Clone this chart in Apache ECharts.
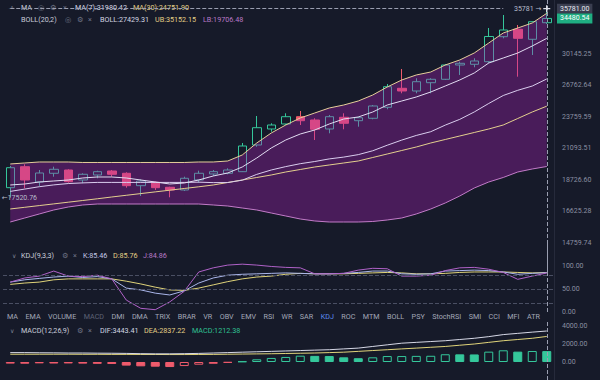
<!DOCTYPE html>
<html><head><meta charset="utf-8">
<script src="https://cdn.jsdelivr.net/npm/echarts@6/dist/echarts.min.js"></script>
<style>html,body{margin:0;padding:0;background:#161a29;}#c{width:600px;height:380px;}</style>
</head><body><div id="c"></div>
<script>
// ---------------- data ----------------
const categories = ['1','2','3','4','5','6','7','8','9','10','11','12','13','14','15','16','17','18','19','20',
  '21','22','23','24','25','26','27','28','29','30','31','32','33','34','35','36','37','38'];
// [open, close, low, high]
const ohlc = [
  [18191,19618,17520.76,19744],[19692,18727,18149,19872],[18586,19229,18308,19447],[19207,19500,18962,19692],
  [19447,18607,18537,19500],[18727,19135,18495,19207],[19084,19324,18848,19397],[19375,19135,18962,19447],
  [19207,18329,18191,19280],[18329,18656,17629,18777],[18565,18191,18033,18621],[18218,18033,17542,18259],
  [18033,18848,17965,18962],[18727,19207,18537,19397],[19157,19324,19013,19447],[19207,19447,19135,19573],
  [19324,21294,19302,21537],[21375,22818,21238,23850],[22707,23052,22476,23201],[23140,23787,23052,24094],
  [23787,23430,23052,24305],[23492,22681,21782,23644],[22707,23787,22341,23940],[23733,23201,22681,24094],
  [23430,23697,22905,23787],[23644,24768,23554,24862],[24647,26642,24461,26915],[26481,26212,25986,28485],
  [26212,27150,25986,27501],[27047,27397,25986,27501],[27397,28918,27325,29027],[28918,29104,27846,29281],
  [28995,29358,28668,29659],[29281,32206,29104,33257],[32181,33006,31987,34931],[33094,31987,27668,33636],
  [31867,34058,30032,34100],[33929,34480.54,33763,35781]
];
const ma7 = [18377,18446,18586,18656,18727,18869,18940,18940,18869,18727,18586,18446,18516,18727,19012,19229,
  19670,20350,21134,21782,22281,22621,23140,23581,23760,24213,24862,25241,25625,26114,26712,27325,28057,29137,
  29693,30259,31071,31980.42];
const ma30 = [16784,16892,17001,17110,17220,17331,17443,17562,17675,17789,17904,18019,18135,18252,18377,18551,
  18727,18905,19084,19302,19485,19670,19820,19969,20121,20389,20660,20935,21214,21537,21824,22114,22408,22707,
  23053,23626,24213,24751.90];
const boll = [17937,18096,18257,18383,18478,18524,18556,18556,18556,18556,18556,18556,18556,18574,18542,18548,
  18714,19129,19448,19699,19916,20081,20280,20420,20610,20914,21356,21774,22158,22474,23043,23549,24214,25006,
  25770,26280,26707,27429.31];
const ub = [19895,19970,20045,20045,20045,20008,20008,20008,20008,20008,20008,20008,20008,20045,20045,20121,
  20582,21537,22365,23052,23670,24122,24582,24862,25241,25819,26612,27325,27846,28164,28918,29469,30259,31425,
  32634,33257,33891,35152.15];
const lb = [15978,16222,16469,16720,16910,17039,17103,17103,17103,17103,17103,17103,17103,17103,17039,16974,
  16846,16720,16531,16345,16161,16039,15978,15978,15978,16009,16100,16222,16469,16783,17168,17628,18169,18586,
  18906,19302,19522,19706.48];
const kLine = [65,70,73,76,78,75,77,72,52,48,41,37,46,63,74,80,82,83,84,85,84,83,83,84,86,89,89,83,82,83,89,90,91,90,87,82,84,85.46];
const dLine = [60,63,65,70,72,72,72,72,67,61,54,48,47,52,59,66,72,76,78,82,84,83,83,83,84,85,86,85,83,83,84,86,87,87,87,86,85,85.76];
const jLine = [65,74,78,89,78,77,80,72,26,8,5,22,45,87,96,102,104,102,99,97,96,83,83,84,91,95,94,78,78,80,90,96,97,93,86,71,78,84.86];
const dif = [1045,1045,1027,1018,1000,1000,982,973,955,927,909,909,927,955,1000,1045,1091,1136,1182,1227,1273,1318,
  1364,1455,1545,1727,1909,2091,2182,2273,2364,2500,2636,2818,3045,3182,3318,3443.41];
const dea = [864,864,864,864,864,855,855,845,845,836,836,827,827,836,845,864,882,900,918,945,973,1000,1045,1091,
  1182,1273,1364,1455,1545,1636,1727,1864,2000,2182,2364,2500,2636,2837.22];
const hist = [-180,-190,-150,-170,-160,-180,-200,-220,-400,-480,-520,-560,-450,-300,-200,-80,60,300,450,560,700,
  680,660,520,420,520,660,660,680,690,860,850,840,1150,1300,1150,1220,1212.38];
const priceTicks = [14759.74,16625.28,18726.60,21093.51,23759.59,26762.64,30145.25];
const kdjTicks = [0,50,100];
const macdTicks = [0,2000,4000];
const lastPrice = 34480.54, maxHigh = 35781, minLow = 17520.76;
const tabs = ['MA','EMA','VOLUME','MACD','DMI','DMA','TRIX','BRAR','VR','OBV','EMV','RSI','WR','SAR','KDJ','ROC',
  'MTM','BOLL','PSY','StochRSI','SMI','CCI','MFI','ATR'];

// ---------------- chart ----------------
const FONT = 'Roboto, "Noto Sans", "DejaVu Sans", sans-serif';
const AX = '#8a8fa1', UP = '#35c79b', DOWN = '#ef5b6c';
const C_W = '#d3d6e2', C_Y = '#e3cf86', C_P = '#b879c6', C_G = '#6f7486';
const CLEAR = 'rgba(0,0,0,0)';
const STEP = Math.log(priceTicks[1] / priceTicks[0]);
const tr = v => Math.log(v / priceTicks[0]) / STEP;
const last = categories[categories.length - 1];
const MAIN_MAX = 7.714, MAIN_MIN = -1;

const chart = echarts.init(document.getElementById('c'), null, {renderer: 'svg', width: 600, height: 380});

const histData = hist.map((v, i) => {
  const prev = i > 0 ? hist[i - 1] : v;
  const c = v >= 0 ? UP : DOWN;
  return {value: v, itemStyle: {color: v < prev ? c : CLEAR, borderColor: c, borderWidth: 1}};
});

const dash = {type: 'dashed', color: '#9a9eb0', width: 1};
const cross = (y0, y1) => [{coord: [last, y0]}, {coord: [last, y1]}];

const gridBase = {left: 3, right: 46};
const xAx = i => ({type: 'category', gridIndex: i, data: categories, boundaryGap: true,
  axisLine: {show: false}, axisTick: {show: false}, axisLabel: {show: false}, splitLine: {show: false}});
const yAx = (i, min, max, interval, fmt) => ({type: 'value', gridIndex: i, position: 'right', min, max, interval,
  axisLine: {show: true, lineStyle: {color: '#262a3b'}}, axisTick: {show: false}, splitLine: {show: false},
  axisLabel: {color: AX, fontSize: 7, fontFamily: FONT, margin: 8, formatter: fmt}});

const line = (name, data, color, xi, extra) => Object.assign({name, type: 'line', xAxisIndex: xi, yAxisIndex: xi,
  data, symbol: 'none', lineStyle: {color, width: 1}, itemStyle: {color}, z: 4, silent: true}, extra || {});

// header texts
const gtxt = (x, y, text, fill, size) => ({type: 'text', x, y, silent: true,
  style: {text, fill: fill || C_G, font: (size || 7.2) + 'px ' + FONT, textVerticalAlign: 'middle', verticalAlign: 'middle'}});
const graphics = [
  gtxt(9, 7.3, '-^-', '#7e8394', 6),
  gtxt(21, 7.3, 'MA', '#c9cdd9'), gtxt(38, 7.3, '◎'), gtxt(50, 7.3, '⚙'), gtxt(63, 7.3, '×'),
  gtxt(75, 7.3, 'MA(7):' + ma7[ma7.length - 1].toFixed(2), C_W),
  gtxt(133, 7.3, 'MA(30):' + ma30[ma30.length - 1].toFixed(2), C_Y),
  gtxt(21, 19.3, 'BOLL(20,2)', '#c9cdd9'), gtxt(65, 19.3, '◎'), gtxt(77, 19.3, '⚙'), gtxt(88, 19.3, '×'),
  gtxt(100, 19.3, 'BOLL:' + boll[boll.length - 1].toFixed(2), C_W),
  gtxt(155, 19.3, 'UB:' + ub[ub.length - 1].toFixed(2), C_Y),
  gtxt(203, 19.3, 'LB:' + lb[lb.length - 1].toFixed(2), C_P),
  gtxt(12, 255.7, '∨', '#7e8394', 6), gtxt(21, 255.7, 'KDJ(9,3,3)', '#c9cdd9'), gtxt(62, 255.7, '⚙'), gtxt(73, 255.7, '×'),
  gtxt(83, 255.7, 'K:' + kLine[kLine.length - 1].toFixed(2), '#c3c9e6'),
  gtxt(113, 255.7, 'D:' + dLine[dLine.length - 1].toFixed(2), C_Y),
  gtxt(143, 255.7, 'J:' + jLine[jLine.length - 1].toFixed(2), C_P),
  gtxt(10, 330, '∨', '#7e8394', 6), gtxt(21, 330, 'MACD(12,26,9)', '#c9cdd9'), gtxt(77, 330, '⚙'), gtxt(88, 330, '×'),
  gtxt(100, 330, 'DIF:' + dif[dif.length - 1].toFixed(2), C_W),
  gtxt(144, 330, 'DEA:' + dea[dea.length - 1].toFixed(2), C_Y),
  gtxt(192, 330, 'MACD:' + hist[hist.length - 1].toFixed(2), '#2fc193')
];
// tab bar
(function () {
  const ctx = document.createElement('canvas').getContext('2d');
  const size = 7.2; ctx.font = size + 'px ' + FONT;
  const gap = 7.45; let x = 7;
  tabs.forEach(t => {
    const col = t === 'KDJ' ? '#5b8def' : (t === 'MACD' ? '#5d6275' : '#a3a8b8');
    graphics.push(gtxt(x, 316.7, t, col, size));
    x += ctx.measureText(t).width + gap;
  });
})();

const boxLabel = (text, bg, fg) => ({show: true, position: 'end', distance: 3, formatter: text, color: fg,
  backgroundColor: bg, padding: [2, 3, 1, 3], fontSize: 7, fontFamily: FONT});

const option = {
  backgroundColor: '#161a29',
  animation: false,
  grid: [
    Object.assign({top: 0, bottom: 105.5}, gridBase),
    Object.assign({top: 243, bottom: 45}, gridBase),
    Object.assign({top: 308, bottom: -16}, gridBase)
  ],
  xAxis: [xAx(0), xAx(1), xAx(2)],
  yAxis: [
    yAx(0, MAIN_MIN, MAIN_MAX, 1, v => {
      const n = Math.round(v);
      return (Math.abs(v - n) < 1e-6 && n >= 0 && n < priceTicks.length) ? priceTicks[n].toFixed(2) : '';
    }),
    yAx(1, -50, 150, 50, v => kdjTicks.indexOf(v) >= 0 ? v.toFixed(2) : ''),
    yAx(2, -2000, 6000, 2000, v => macdTicks.indexOf(v) >= 0 ? v.toFixed(2) : '')
  ],
  graphic: graphics,
  series: [
    {
      type: 'candlestick', xAxisIndex: 0, yAxisIndex: 0, barWidth: 9, z: 2, silent: true,
      data: ohlc.map(d => d.map(tr)),
      itemStyle: {color: CLEAR, color0: DOWN, borderColor: UP, borderColor0: DOWN, borderWidth: 1},
      markLine: {
        silent: true, symbol: 'none', animation: false,
        label: {show: false},
        lineStyle: dash,
        data: [
          cross(MAIN_MAX, MAIN_MIN),
          [{coord: [categories[0], tr(maxHigh)]}, {coord: [categories[34], tr(maxHigh)]}],
          {yAxis: tr(maxHigh), lineStyle: {color: CLEAR, type: 'solid'}, label: boxLabel(maxHigh.toFixed(2), '#3a3e50', '#e8eaf0')},
          {yAxis: tr(lastPrice), lineStyle: {color: CLEAR, type: 'solid'}, label: boxLabel(lastPrice.toFixed(2), '#1fae82', '#ffffff')}
        ]
      },
      markPoint: {
        silent: true, animation: false,
        data: [
          {coord: [last, tr(maxHigh)], symbol: 'path://M4,0H6V10H4Z M0,4H10V6H0Z', symbolSize: 7,
            itemStyle: {color: '#e0e2ea'},
            label: {show: true, position: 'left', distance: 2, formatter: String(maxHigh) + ' →', color: '#b8bccb',
              fontSize: 7, fontFamily: FONT}},
          {coord: [categories[0], tr(minLow)], symbol: 'circle', symbolSize: 1, itemStyle: {color: CLEAR},
            label: {show: true, position: 'right', distance: 0, offset: [-9, 0], formatter: '←' + minLow.toFixed(2),
              color: '#b8bccb', fontSize: 7, fontFamily: FONT}}
        ]
      }
    },
    line('LB', lb.map(tr), '#c27bc8', 0, {stack: 'band', z: 3}),
    line('UB', ub.map((u, i) => tr(u) - tr(lb[i])), '#e6cf9a', 0,
      {stack: 'band', z: 3, areaStyle: {color: '#a921b7', opacity: 0.35}}),
    line('MA30', ma30.map(tr), '#e3cf8e', 0),
    line('BOLL', boll.map(tr), '#d9cdee', 0),
    line('MA7', ma7.map(tr), '#e2dcf2', 0),
    line('D', dLine, '#e0d47a', 1, {markLine: {silent: true, symbol: 'none', label: {show: false},
      lineStyle: {type: 'dashed', color: '#4a4f63', width: 1},
      data: [{yAxis: 80}, {yAxis: 50}, {yAxis: 20}, cross(0, 150).map(p => Object.assign({lineStyle: dash}, p))]}}),
    line('K', kLine, '#aab6ea', 1),
    line('J', jLine, '#b062c8', 1),
    {type: 'bar', xAxisIndex: 2, yAxisIndex: 2, data: histData, barWidth: 9, silent: true, z: 2,
      markLine: {silent: true, symbol: 'none', label: {show: false}, lineStyle: dash, data: [cross(-2000, 4600)]}},
    line('DEA', dea, '#e0d47a', 2),
    line('DIF', dif, '#d6d8e6', 2)
  ]
};
chart.setOption(option);
</script>
</body></html>
